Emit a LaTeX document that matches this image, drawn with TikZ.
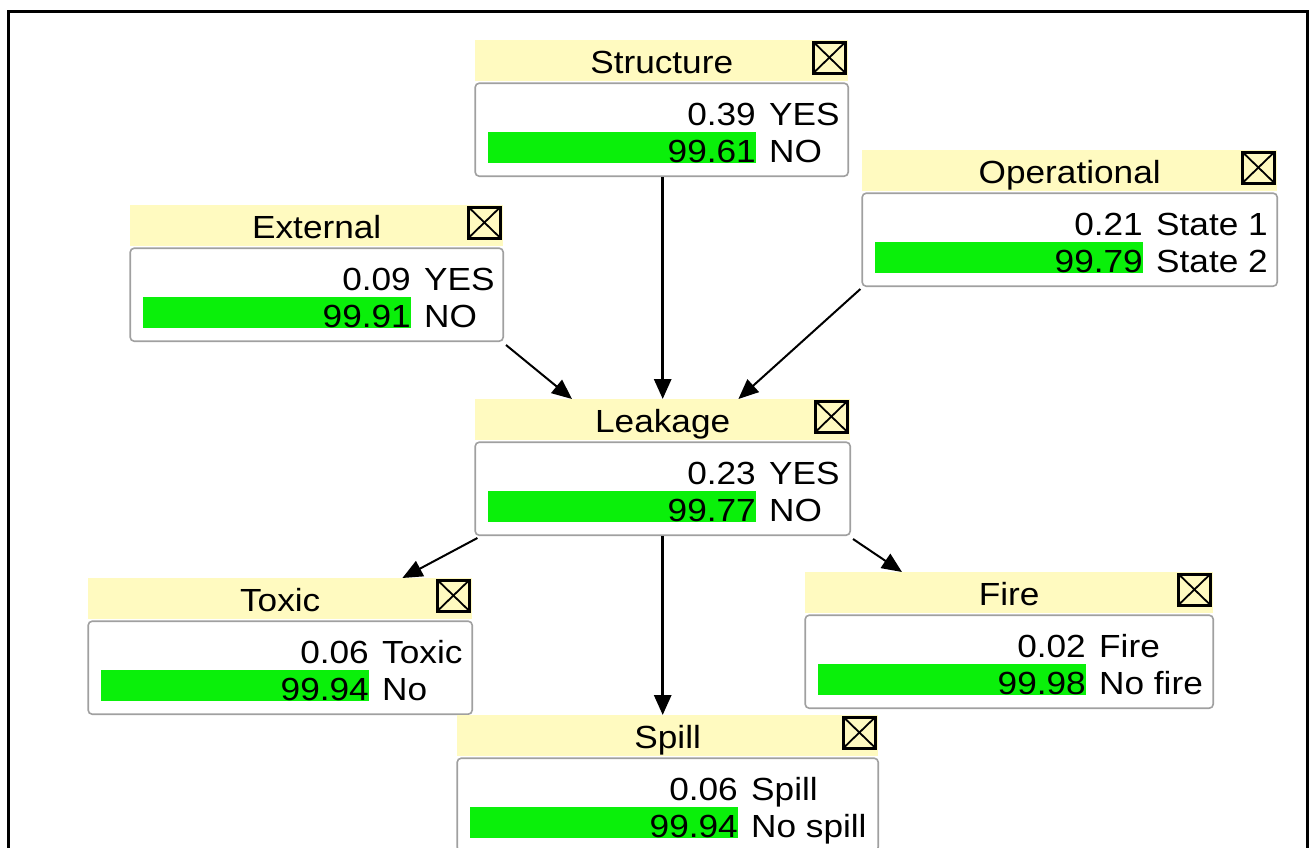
\documentclass[tikz,border=0pt]{standalone}
\usepackage{fontspec}
\setmainfont[FakeStretch=1.1]{Liberation Sans}
\usetikzlibrary{calc}
\usetikzlibrary{arrows.meta}

\definecolor{headyellow}{RGB}{255,250,192}
\definecolor{bargreen}{RGB}{10,240,10}
\definecolor{framegray}{RGB}{160,160,160}

\tikzset{
  nethead/.style={fill=headyellow, inner sep=0, minimum height=41pt, text height=27pt, text depth=1pt, anchor=north west},
  netbody/.style={draw=framegray, fill=white, line width=1.6pt, rounded corners=4pt, inner sep=0, minimum height=93pt, anchor=north},
  closebox/.style={draw=black, line width=3pt},
  link/.style={-{Triangle[length=20pt,width=17pt]}, line width=2pt},
  mainlink/.style={link, line width=3pt},
}

\begin{document}
\begin{tikzpicture}[x=1pt, y=-1pt, font=\fontsize{32}{38}\selectfont]
\useasboundingbox (0,0) rectangle (1310,847);
\draw[line width=3pt] (8,870) -- (8,11) -- (1307,11) -- (1307,870);

% name / left / top / width / title / states
\foreach \nm/\x/\y/\w/\ttl/\pa/\la/\pb/\lb in {
  struct/475/40/373/Structure/0.39/YES/99.61/NO,
  ext/130/205/373/External/0.09/YES/99.91/NO,
  op/862/150/415/Operational/0.21/State 1/99.79/State 2,
  leak/475/399/375/Leakage/0.23/YES/99.77/NO,
  toxic/88/578/384/Toxic/0.06/Toxic/99.94/No,
  fire/805/572/408/Fire/0.02/Fire/99.98/No fire,
  spill/457/715/421/Spill/0.06/Spill/99.94/No spill}{
\node[nethead, minimum width=\w pt] (\nm) at (\x,\y) {\ttl};
\node[netbody, minimum width=\w pt] (\nm-b) at ($(\nm.south)+(0,1)$) {};
\coordinate (\nm-ia) at ($(\nm.north east)+(-35,2)$);
\coordinate (\nm-ib) at ($(\nm.north east)+(-3,33)$);
\draw[closebox] (\nm-ia) rectangle (\nm-ib);
\draw[line width=1.8pt] (\nm-ia) -- (\nm-ib) (\nm-ia -| \nm-ib) -- (\nm-ia |- \nm-ib);
\fill[bargreen] ($(\nm.north west)+(13,92)$) rectangle ++(268,31);
\node[anchor=base east, inner sep=0] (\nm-pa) at ($(\nm.north west)+(281,85)$) {\pa};
\node[anchor=base west, inner sep=0] (\nm-la) at ($(\nm.north west)+(294,85)$) {\la};
\node[anchor=base east, inner sep=0] (\nm-pb) at ($(\nm.north west)+(281,122)$) {\pb};
\node[anchor=base west, inner sep=0] (\nm-lb) at ($(\nm.north west)+(294,122)$) {\lb};
}

\draw[mainlink] ($(struct-b.south)+(1,0)$) -- ($(struct-b.south |- leak.north)+(1,0)$);
\draw[link] ($(ext-b.south east)+(2,3)$) -- ($(leak.north west)+(97,0)$);
\draw[link] ($(op-b.south west)+(-1,2)$) -- ($(leak.north east)+(-112,0)$);
\draw[link] ($(leak-b.south west)+(3,2)$) -- ($(toxic.north east)+(-70,0)$);
\draw[mainlink] (leak-b.south) -- (leak-b.south |- spill.north);
\draw[link] ($(leak-b.south east)+(2,3)$) -- ($(fire.north west)+(97,0)$);

\end{tikzpicture}
\end{document}
